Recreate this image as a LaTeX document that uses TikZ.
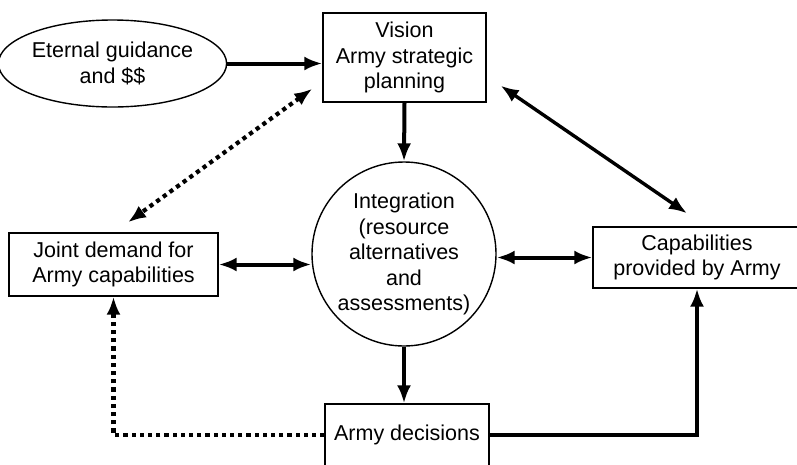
\documentclass[tikz,border=0pt]{standalone}
\usepackage{fontspec}
\setmainfont{Liberation Sans}
\usetikzlibrary{shapes.geometric,arrows.meta,calc,positioning}
\tikzstyle{block}=[draw,line width=1.4pt,align=center,inner sep=0pt]
\tikzstyle{oval}=[draw,ellipse,line width=1.4pt,align=center,minimum width=205pt,minimum height=87pt,inner sep=0pt]
\tikzstyle{hub}=[draw,circle,line width=1.4pt,align=center,minimum size=184pt,inner sep=0pt]
\tikzstyle{link}=[line width=4pt,-{Latex[length=18pt,width=14pt]}]
\tikzstyle{duallink}=[line width=4pt,{Latex[length=18pt,width=14pt]}-{Latex[length=18pt,width=14pt]}]
\tikzstyle{dotlink}=[line width=4.2pt,dash pattern=on 4.2pt off 4pt]

\begin{document}
\begin{tikzpicture}[x=1pt,y=-1pt,every node/.style={font=\fontsize{21.5}{25.5}\selectfont}]
\useasboundingbox (0,0) rectangle (797,464);
\clip (0,0) rectangle (797,464);
\node [oval] (guide) at (112.5,63.5) {Eternal guidance\\and \$\$};
\node [block,minimum width=163pt,minimum height=89pt] (vision) at (404.5,57.5) {Vision\\Army strategic\\planning};
\node [hub] (integ) at (404,254) {Integration\\(resource\\alternatives\\and\\assessments)};
\node [block,minimum width=209pt,minimum height=63pt] (joint) at (113.5,264.5) {Joint demand for\\Army capabilities};
\node [block,minimum width=208pt,minimum height=61pt] (capab) at (697,257.5) {Capabilities\\provided by Army};
\node [block,minimum width=164pt,minimum height=62pt] (decide) at (407,435) {Army decisions};
% main flow
\draw [link] (guide.east) -- (guide.east -| vision.west);
\draw [link] (vision.south) -- (integ.north);
\draw [link] (integ.south) -- (integ.south |- decide.north);
\draw [link] (decide.east) -| (capab.south);
% two-way links
\draw [duallink] (joint.east) -- (joint.east -| integ.west);
\draw [duallink] (capab.west) -- (capab.west -| integ.east);
\draw [duallink,line width=3.4pt] ([shift={(14,-17)}]vision.south east) -- ([shift={(-10,-13)}]capab.north);
% dotted feedback
\draw [dotlink,{Latex[length=18pt,width=14pt]}-{Latex[length=18pt,width=14pt]}] ([shift={(-10,-14)}]vision.south west) -- ([shift={(14.5,-10)}]joint.north);
\draw [dotlink,-{Latex[length=18pt,width=14pt]}] (decide.west) -| (joint.south);
\end{tikzpicture}
\end{document}
